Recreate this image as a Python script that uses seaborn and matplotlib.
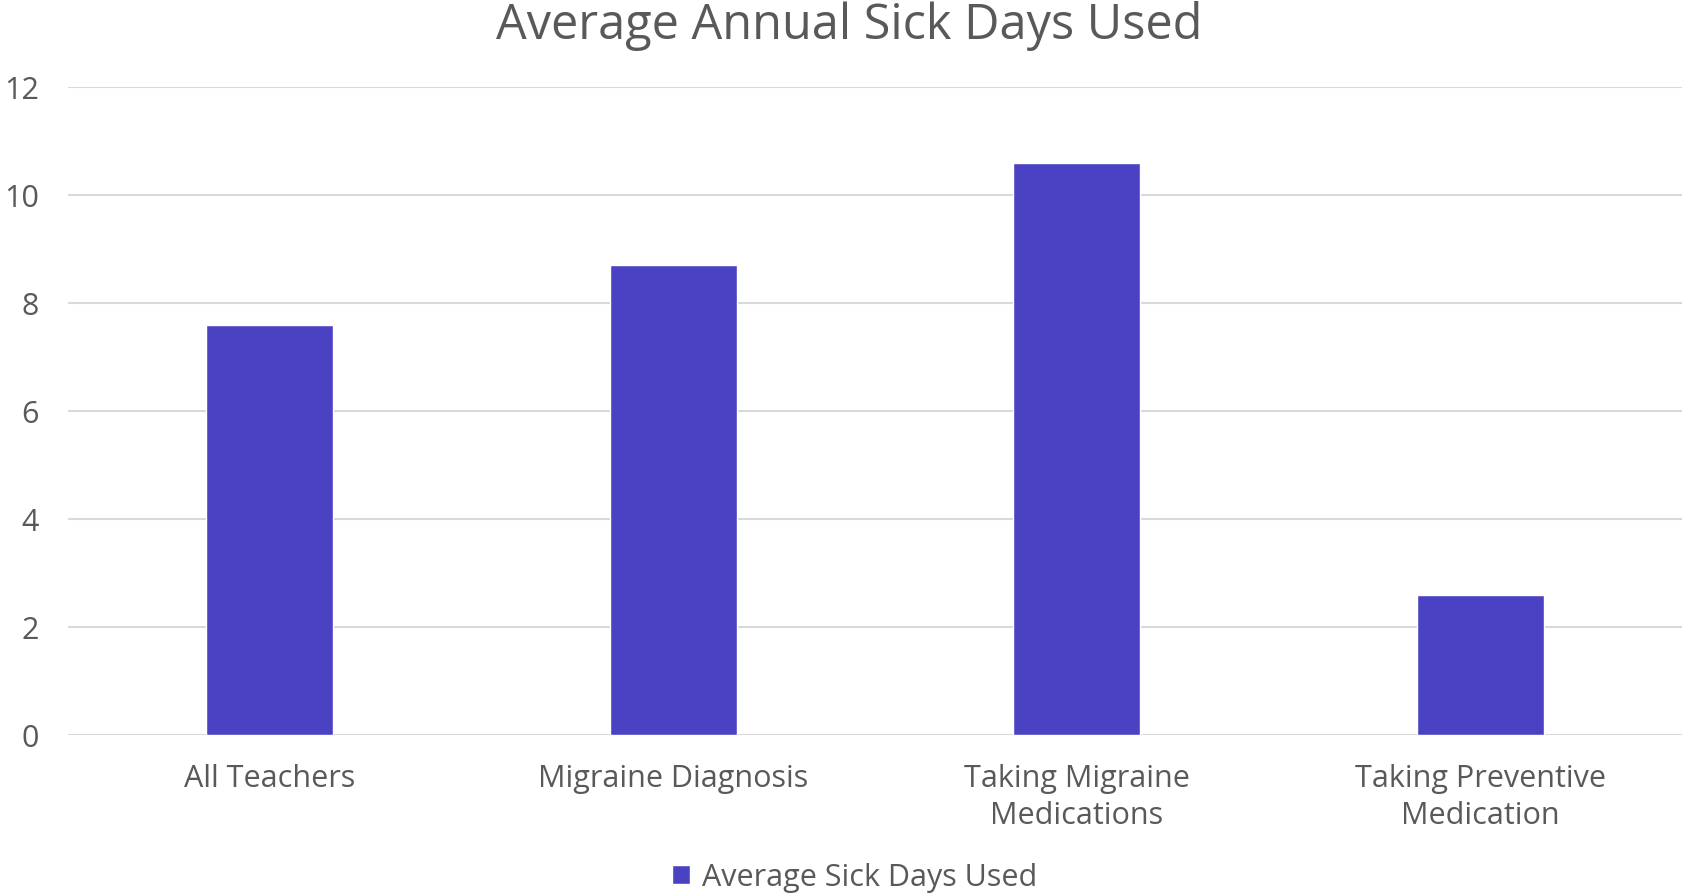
import matplotlib
matplotlib.use("Agg")
import matplotlib.pyplot as plt
import seaborn as sns

categories = ["All Teachers", "Migraine Diagnosis", "Taking Migraine\nMedications",
              "Taking Preventive\nMedication"]
sick_days = [7.6, 8.7, 10.6, 2.6]
y_ticks = [0, 2, 4, 6, 8, 10, 12]
series_name = "Average Sick Days Used"
title = "Average Annual Sick Days Used"

sns.set_theme(style="white")
plt.rcParams["font.family"] = ["Open Sans", "DejaVu Sans"]

text_color = "#595959"
bar_color = "#4A42C3"
grid_color = "#D9D9D9"

fig = plt.figure(figsize=(16.82, 8.95), dpi=100)
ax = fig.add_axes([0.0404, 0.1777, 0.9596, 0.724])

sns.barplot(x=categories, y=sick_days, color=bar_color, width=0.315,
            saturation=1, label=series_name, ax=ax, zorder=3)

ax.set_xlim(-0.5, 3.5)
ax.set_ylim(0, 12)
ax.set_yticks(y_ticks)
ax.set_yticklabels([str(t) for t in y_ticks])
ax.yaxis.grid(True, color=grid_color, linewidth=1.5, zorder=0)
ax.set_axisbelow(True)
for spine in ax.spines.values():
    spine.set_visible(False)
ax.tick_params(axis="y", length=0, pad=21, labelsize=22, labelcolor=text_color)
ax.tick_params(axis="x", length=0, pad=20, labelsize=22, labelcolor=text_color)
for lbl in ax.get_xticklabels():
    lbl.set_linespacing(1.3)
ax.set_xlabel("")
ax.set_ylabel("")
ax.legend().remove()

fig.text(0.505, 0.9564, title, ha="center", va="baseline",
         fontsize=35, color=text_color)

handles, labels = ax.get_legend_handles_labels()
leg = fig.legend(handles, labels, loc="lower center", bbox_to_anchor=(0.508, -0.022),
                 frameon=False, fontsize=22, handlelength=0.6, handleheight=0.6,
                 handletextpad=0.4, borderpad=0.2)
for t in leg.get_texts():
    t.set_color(text_color)

fig.savefig("out.png", dpi=100)
